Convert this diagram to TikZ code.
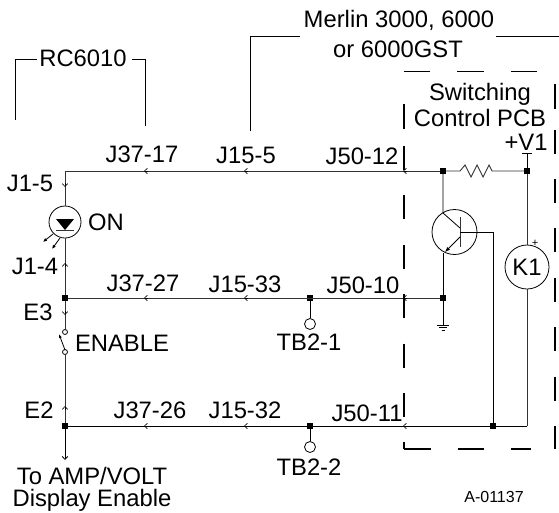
\documentclass[tikz,border=0pt]{standalone}
\usepackage{fontspec}
\setmainfont{Liberation Sans}
\usetikzlibrary{arrows.meta,calc}
\tikzset{
  lbl/.style={inner sep=0pt,font=\fontsize{23.8}{26}\selectfont},
  dot/.style={fill=black,inner sep=0pt,minimum size=6pt,rectangle},
  pad/.style={draw,circle,inner sep=0pt,minimum size=11pt,line width=0.8pt},
  ring/.style={draw,circle,inner sep=0pt,line width=0.8pt},
  wire/.style={line width=0.9pt,draw=black!80},
  thinwire/.style={line width=0.8pt},
  box/.style={line width=1.3pt,dash pattern=on 24pt off 25.4pt},
  boxh/.style={line width=1.3pt,dash pattern=on 26.5pt off 27pt},
  bracket/.style={line width=0.8pt},
  tick/.style={-{Straight Barb[length=3pt,width=5.5pt]},line width=0.6pt}
}
\begin{document}
\begin{tikzpicture}[x=1pt,y=-1pt]
  \useasboundingbox (0,0) rectangle (559,512);
  % junctions
  \coordinate (tl) at (65,171);
  \node[dot] (e3) at (65,298) {};
  \node[dot] (e2) at (65,426) {};
  \node[dot] (tb1) at (310,298) {};
  \node[dot] (tb2) at (310,426) {};
  \node[dot] (jc) at (443,171) {};
  \node[dot] (jv) at (527,171) {};
  \node[dot] (je) at (443,298) {};
  \node[dot] (jb) at (493,426) {};
  \coordinate (br) at (527,426);
  \coordinate (rl) at (457,171);
  \coordinate (rr) at (492,171);
  \coordinate (vt) at (527,153);
  \coordinate (out) at (65,460);
  % parts
  \node[ring,minimum size=32pt] (led) at (65,222) {};
  \node[ring,minimum size=45pt] (q1) at (454.5,232) {};
  \node[ring,minimum size=44pt,font=\fontsize{23.8}{26}\selectfont] (k1) at (527,267) {K1};
  \node[ring,minimum size=5pt] (sa) at (65,332) {};
  \node[ring,minimum size=5pt] (sb) at (65,352) {};
  \node[pad] (tp1) at (310,324) {};
  \node[pad] (tp2) at (310,447) {};
  % wires
  \draw[wire] (jv) -- (rr) -- ++(-3,-6) -- ++(-6,12) -- ++(-6,-12) -- ++(-6,12) -- ++(-6,-12) -- ++(-5,6) -- (jc);
  \draw[wire] (jc) -- (tl) -- (led);
  \draw[wire] (led) -- (e3) -- (sa);
  \draw[wire] (sb) -- (e2);
  \draw[wire] (je) -- (e3);
  \draw[thinwire] (br) -- (e2);
  \draw[wire] (jv) -- (k1);
  \draw[wire] (k1) -- (br);
  \draw[thinwire] (jv) -- (vt);
  \draw[thinwire] ($(vt)+(-5,0)$) -- ($(vt)+(5,0)$);
  \draw[thinwire] (tb1) -- (tp1);
  \draw[thinwire] (tb2) -- (tp2);
  \draw[thinwire,-{Straight Barb[length=3pt,width=5.5pt]}] (e2) -- (out);
  % transistor
  \draw[thinwire] (jc) -- (443,213) -- (460,228);
  \draw[wire] (460,217) -- (460,247);
  \draw[thinwire,-{Latex[length=5pt,width=4pt]}] (460,237) -- (445,252);
  \draw[thinwire] (443,253) -- (je);
  \draw[thinwire] (460,232) -- (493,232) -- (jb);
  \draw[thinwire] (je) -- (443,325);
  \draw[thinwire] (437,325) -- (449,325);
  \draw[thinwire] (439,327.5) -- (447,327.5);
  \draw[thinwire] (441.5,330) -- (444.5,330);
  % led
  \fill (56,219) -- (74,219) -- (65,230) -- cycle;
  \draw[wire] (56,230) -- (74,230);
  \draw[thinwire,-{Latex[length=4pt,width=3.5pt]}] (53,234) -- (43,242);
  \draw[thinwire,-{Latex[length=4pt,width=3.5pt]}] (60,238) -- (52,249);
  % switch
  \draw[thinwire,-{Latex[length=4pt,width=3pt]}] (65,350) -- (59,334);
  % current arrows
  \foreach \y in {171,298,426}
    \foreach \x in {146,246,405}
      \draw[tick] (\x+2,\y) -- (\x-2,\y);
  \draw[tick] (65,183) -- (65,187);
  \draw[tick] (65,267) -- (65,263);
  \draw[tick] (65,311) -- (65,315);
  \draw[tick] (65,410) -- (65,406);
  % boxes
  \draw[box] (404,146) -- (404,449);
  \draw[line width=1.3pt] (404,104) -- (404,129);
  \draw[boxh] (404,449) -- (531,449);
  \draw[box] (555,129.5) -- (555,449);
  \draw[line width=1.3pt] (555,84) -- (555,109);
  \draw[line width=1pt] (403.5,71) -- (430,71) (457,71) -- (484,71) (511,71) -- (537,71);
  % brackets
  \draw[bracket] (15,120) -- (15,59) -- (37,59);
  \draw[bracket] (132,59) -- (145,59) -- (145,126);
  \draw[bracket] (250,131) -- (250,36) -- (300,36);
  \draw[bracket] (496,36) -- (559,36);
  % text
  \node[lbl] (rc) at (83,58) {RC6010};
  \node[lbl] (me) at (399,20) {Merlin 3000, 6000};
  \node[lbl] (or) at (398,49) {or 6000GST};
  \node[lbl] (sw) at (480,94.5) {Switching};
  \node[lbl] (cp) at (480,118) {Control PCB};
  \node[lbl] (v1) at (526,142) {+V1};
  \node[lbl] (a1) at (142,154) {J37-17};
  \node[lbl] (a2) at (246,155) {J15-5};
  \node[lbl] (a3) at (362,156) {J50-12};
  \node[lbl] (b1) at (143,283) {J37-27};
  \node[lbl] (b2) at (245,284) {J15-33};
  \node[lbl] (b3) at (363,285) {J50-10};
  \node[lbl] (c1) at (150,410) {J37-26};
  \node[lbl] (c2) at (245,410) {J15-32};
  \node[lbl] (c3) at (367,413) {J50-11};
  \node[lbl] (j15) at (30,183) {J1-5};
  \node[lbl] (on) at (106,222) {ON};
  \node[lbl] (j14) at (35,266) {J1-4};
  \node[lbl] (le3) at (38,312) {E3};
  \node[lbl] (en) at (122,343) {ENABLE};
  \node[lbl] (le2) at (39,410) {E2};
  \node[lbl] (t1) at (309,342) {TB2-1};
  \node[lbl] (t2) at (309,467) {TB2-2};
  \node[lbl] (to) at (92,476) {To AMP/VOLT};
  \node[lbl] (de) at (92,500) {Display Enable};
  \node[inner sep=0pt,font=\fontsize{16}{18}\selectfont] (id) at (494,497) {A-01137};
  \node[inner sep=0pt,font=\fontsize{11}{12}\selectfont] (pl) at (535,243) {+};
\end{tikzpicture}
\end{document}
